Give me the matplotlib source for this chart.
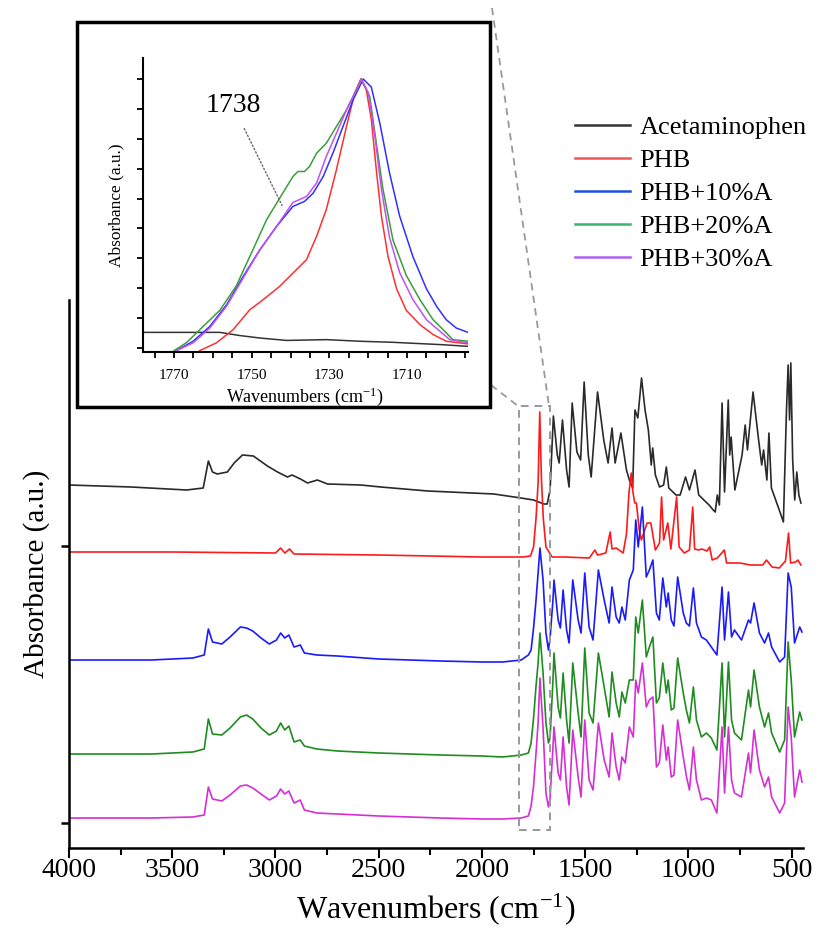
import matplotlib
matplotlib.use("Agg")
import matplotlib.pyplot as plt
from matplotlib.lines import Line2D
from matplotlib.patches import Rectangle

plt.rcParams['font.family'] = ['Liberation Serif', 'DejaVu Serif']
plt.rcParams['mathtext.fontset'] = 'stix'

# ---------------- data (stacked absorbance, a.u.) ----------------
labels = ["Acetaminophen", "PHB", "PHB+10%A", "PHB+20%A", "PHB+30%A"]

wn_acet = [4000, 3700, 3430, 3350, 3325, 3305, 3282, 3233, 3200, 3160, 3107, 3039, 2990, 2942,
           2920, 2879, 2845, 2797, 2748, 2587, 2490, 2262, 1942, 1811, 1750, 1700, 1684,
           1670, 1654, 1635, 1626, 1610, 1590, 1578, 1563, 1540, 1522, 1505, 1485, 1471, 1440,
           1410, 1389, 1370, 1355, 1327, 1300, 1286, 1270, 1259, 1245, 1227, 1210, 1194, 1180,
           1173, 1160, 1140, 1120, 1107, 1095, 1060, 1040, 1014, 995, 968, 950, 900, 880, 870,
           860, 850, 837, 825, 807, 800, 793, 775, 740, 725, 714, 687, 660, 645, 636, 620, 610,
           598, 560, 540, 525, 517, 510, 504, 495, 485, 475, 465, 455]
abs_acet = [3.63, 3.61, 3.58, 3.60, 3.87, 3.76, 3.74, 3.76, 3.85, 3.93, 3.92, 3.82, 3.76, 3.71,
            3.73, 3.69, 3.65, 3.68, 3.64, 3.63, 3.61, 3.57, 3.54, 3.50, 3.48, 3.44, 3.44,
            3.58, 4.32, 3.93, 3.85, 4.28, 3.78, 3.61, 4.45, 3.96, 3.88, 4.66, 3.93, 3.71, 4.56,
            4.08, 3.85, 4.20, 3.85, 4.15, 3.78, 3.68, 3.60, 4.38, 4.30, 4.70, 4.38, 4.18, 3.83,
            4.00, 3.73, 3.61, 3.63, 3.81, 3.60, 3.53, 3.53, 3.71, 3.58, 3.78, 3.53, 3.43, 3.38, 3.36,
            3.53, 3.43, 4.45, 3.56, 4.48, 3.93, 4.11, 3.58, 3.93, 4.23, 3.98, 4.56, 4.08, 3.83, 3.98, 3.68, 4.15,
            3.60, 3.38, 3.26, 4.38, 4.83, 4.28, 4.85, 3.88, 3.48, 3.76, 3.53, 3.45]

wn_phb = [4000, 3500, 3000, 2975, 2955, 2932, 2910, 2500, 2000, 1800, 1765, 1750, 1738, 1728,
          1720, 1712, 1703, 1690, 1660, 1600, 1480, 1453, 1440, 1400, 1379, 1370, 1350, 1316,
          1300, 1288, 1277, 1268, 1260, 1252, 1238, 1228, 1200, 1182, 1160, 1140, 1130, 1120,
          1100, 1085, 1057, 1045, 1020, 995, 979, 970, 950, 935, 910, 897, 885, 860, 826, 815,
          750, 700, 640, 622, 595, 560, 530, 515, 505, 480, 470, 455]
abs_phb = [2.96, 2.96, 2.95, 3.00, 2.95, 2.99, 2.94, 2.93, 2.91, 2.91, 2.92, 3.01, 3.30, 3.65,
           4.36, 3.70, 3.30, 3.01, 2.91, 2.91, 2.90, 2.98, 2.93, 2.95, 3.16, 2.99, 3.00, 2.95,
           3.14, 3.55, 3.75, 3.55, 3.45, 3.45, 3.18, 3.08, 3.25, 3.25, 2.98, 3.05, 3.51, 3.08,
           3.25, 2.99, 3.51, 3.01, 2.95, 2.98, 3.41, 2.99, 2.98, 2.99, 2.97, 3.01, 2.88, 2.90, 2.98, 2.85,
           2.85, 2.83, 2.83, 2.88, 2.81, 2.80, 2.87, 3.15, 2.85, 2.86, 2.88, 2.83]

# blends share one wavenumber grid
wn_blend = [4000, 3600, 3400, 3345, 3325, 3305, 3260, 3220, 3170, 3140, 3110, 3070, 3030, 2995,
            2975, 2955, 2935, 2910, 2880, 2860, 2800, 2700, 2500, 2200, 2000,
            1900, 1810, 1775, 1762, 1750, 1738, 1728, 1719, 1704, 1690, 1678, 1670, 1656, 1651,
            1631, 1620, 1607, 1590, 1578, 1560, 1534, 1520, 1502, 1481, 1462, 1436, 1408, 1384,
            1370, 1350, 1335, 1322, 1306, 1286, 1267, 1255, 1243, 1223, 1204, 1189, 1172, 1155,
            1141, 1124, 1107, 1098, 1083, 1070, 1052, 1025, 1010, 995, 976, 961, 937, 913, 889,
            862, 837, 825, 806, 791, 777, 743, 709, 699, 682, 656, 631, 612, 597, 558, 534, 517,
            502, 486, 461, 450]
abs_10 = [1.88, 1.88, 1.90, 1.93, 2.19, 2.06, 2.04, 2.11, 2.21, 2.20, 2.17, 2.10, 2.04, 2.08,
          2.15, 2.10, 2.13, 2.01, 2.03, 1.95, 1.93, 1.92, 1.89, 1.87, 1.86,
          1.86, 1.88, 1.93, 1.98, 2.20, 2.48, 2.75, 3.00, 2.68, 2.15, 1.98, 2.10, 2.48, 2.68,
          2.28, 2.20, 2.58, 2.18, 2.05, 2.68, 2.28, 2.15, 2.75, 2.21, 2.08, 2.78, 2.48, 2.25,
          2.61, 2.31, 2.25, 2.41, 2.28, 2.68, 2.78, 3.28, 3.01, 3.41, 2.71, 2.78, 2.88, 2.35,
          2.28, 2.70, 2.41, 2.55, 2.28, 2.22, 2.71, 2.35, 2.25, 2.22, 2.60, 2.25, 2.11, 2.08, 2.01,
          1.93, 2.61, 2.08, 2.56, 2.11, 2.18, 2.08, 2.28, 2.25, 2.45, 2.15, 2.05, 2.15, 2.01, 1.86, 1.91, 2.75,
          2.61, 2.05, 2.21, 2.16]
abs_20 = [0.94, 0.94, 0.96, 0.99, 1.29, 1.14, 1.13, 1.20, 1.31, 1.33, 1.29, 1.20, 1.13, 1.17,
          1.25, 1.18, 1.22, 1.06, 1.08, 1.02, 0.99, 0.97, 0.95, 0.93, 0.92,
          0.91, 0.93, 0.95, 1.05, 1.30, 1.62, 1.85, 2.15, 1.75, 1.25, 1.05, 1.10, 1.68, 1.95,
          1.41, 1.30, 1.75, 1.28, 1.05, 1.85, 1.35, 1.11, 2.00, 1.35, 1.25, 1.95, 1.61, 1.31,
          1.76, 1.45, 1.31, 1.56, 1.45, 1.68, 1.68, 2.31, 2.15, 2.48, 1.91, 2.01, 2.11, 1.45,
          1.50, 1.85, 1.55, 1.68, 1.38, 1.40, 1.90, 1.55, 1.38, 1.25, 1.61, 1.28, 1.11, 1.15, 1.10,
          0.98, 1.85, 1.11, 1.86, 1.28, 1.15, 1.08, 1.58, 1.41, 1.78, 1.41, 1.21, 1.35, 1.15, 0.96, 1.08, 2.06,
          1.68, 1.11, 1.36, 1.28]
abs_30 = [0.30, 0.30, 0.31, 0.33, 0.61, 0.49, 0.47, 0.53, 0.62, 0.63, 0.60, 0.54, 0.48, 0.52,
          0.59, 0.54, 0.57, 0.45, 0.48, 0.38, 0.35, 0.34, 0.32, 0.30, 0.29,
          0.29, 0.30, 0.32, 0.42, 0.62, 0.95, 1.25, 1.70, 1.20, 0.55, 0.41, 0.50, 1.01, 1.21,
          0.75, 0.68, 1.11, 0.61, 0.43, 1.18, 0.71, 0.51, 1.28, 0.68, 0.58, 1.25, 0.88, 0.71,
          1.15, 0.81, 0.68, 0.91, 0.85, 1.21, 1.11, 1.68, 1.55, 1.85, 1.41, 1.48, 1.51, 0.81,
          0.85, 1.23, 0.88, 1.01, 0.71, 0.73, 1.28, 0.91, 0.72, 0.58, 1.01, 0.68, 0.48, 0.50, 0.48,
          0.35, 1.21, 0.55, 1.21, 0.68, 0.55, 0.51, 0.95, 0.75, 1.18, 0.78, 0.61, 0.71, 0.51, 0.35, 0.45, 1.41,
          1.11, 0.51, 0.78, 0.66]

# inset: carbonyl region, normalised absorbance
in_wn_acet = [1778, 1758.2, 1753, 1747.9, 1741, 1730.8, 1722.2, 1713.6, 1700.7, 1694.3]
in_ab_acet = [0.058, 0.058, 0.046, 0.037, 0.028, 0.031, 0.025, 0.021, 0.012, 0.006]
in_wn_phb = [1763.4, 1759.1, 1754.8, 1750.5, 1747.1, 1742.8, 1739.4, 1735.9, 1733.3, 1730.8,
             1728.2, 1725.6, 1723.5, 1721.9, 1720.5, 1719.2, 1717.9, 1716.6, 1714.9, 1712.7,
             1710.2, 1706.7, 1703.3, 1699.9, 1694.3]
in_ab_phb = [-0.01, 0.019, 0.068, 0.142, 0.179, 0.229, 0.278, 0.328, 0.415, 0.514,
             0.662, 0.823, 0.947, 1.0, 0.96, 0.85, 0.66, 0.49, 0.34, 0.22,
             0.14, 0.087, 0.05, 0.025, 0.015]
in_wn_10 = [1769.4, 1765.1, 1760.8, 1756.5, 1752.2, 1747.9, 1743.6, 1739.4, 1736.4, 1734.2,
            1731.6, 1729.1, 1726.5, 1723.9, 1721.3, 1719.2, 1717.0, 1714.5, 1711.9, 1708.5,
            1705.0, 1702.4, 1699.9, 1697.3, 1694.3]
in_ab_10 = [-0.01, 0.025, 0.08, 0.16, 0.266, 0.365, 0.452, 0.526, 0.545, 0.575,
            0.637, 0.724, 0.823, 0.922, 1.0, 0.97, 0.835, 0.65, 0.49, 0.34,
            0.22, 0.155, 0.105, 0.074, 0.058]
in_wn_20 = [1770, 1766.8, 1762.5, 1758.2, 1754, 1749.7, 1746.2, 1742.8, 1739.4, 1738.1, 1736.4,
            1735.1, 1733.3, 1730.8, 1728.2, 1725.6, 1723.5, 1721.8, 1719.6, 1717.9, 1716.2,
            1713.6, 1710.2, 1706.7, 1703.3, 1700.7, 1698.2, 1694.3]
in_ab_20 = [-0.01, 0.02, 0.08, 0.14, 0.23, 0.365, 0.476, 0.557, 0.637, 0.656, 0.656,
            0.675, 0.724, 0.761, 0.823, 0.885, 0.947, 1.0, 0.934, 0.76, 0.59,
            0.40, 0.27, 0.18, 0.105, 0.068, 0.031, 0.025]
in_wn_30 = [1769.4, 1765.1, 1760.8, 1756.5, 1752.2, 1747.9, 1743.6, 1739.4, 1735.9, 1733.3,
            1730.8, 1728.2, 1725.6, 1723.0, 1721.8, 1720.0, 1718.3, 1716.6, 1714.5, 1711.9,
            1708.5, 1705.0, 1702.0, 1699.0, 1694.3]
in_ab_30 = [-0.01, 0.019, 0.074, 0.155, 0.26, 0.365, 0.452, 0.541, 0.563, 0.613,
            0.712, 0.798, 0.885, 0.959, 1.0, 0.95, 0.79, 0.59, 0.41, 0.28,
            0.18, 0.105, 0.068, 0.031, 0.019]

main_ticks = [4000, 3500, 3000, 2500, 2000, 1500, 1000, 500]
inset_ticks = [1770, 1750, 1730, 1710]

# ---------------- styling ----------------
trace_colors = ["#2a2a2a", "#ff1a1a", "#1a1aff", "#1e8c1e", "#d62ed6"]
inset_colors = ["#333333", "#ff3030", "#3030ff", "#3a9e3a", "#c050f0"]
legend_colors = ["#333333", "#f05555", "#1f4fe0", "#3cb371", "#b060f0"]

W, H = 820, 942
fig = plt.figure(figsize=(W / 100, H / 100), dpi=100)

def fx(px):
    return px / W

def fy(py):
    return 1 - py / H

# main axes
ax = fig.add_axes([fx(69), fy(848), fx(803) - fx(69), fy(300) - fy(848)])
series = [(wn_acet, abs_acet), (wn_phb, abs_phb), (wn_blend, abs_10),
          (wn_blend, abs_20), (wn_blend, abs_30)]
for (x, y), c in zip(series, trace_colors):
    ax.plot(x, y, color=c, lw=1.2)
ax.set_xlim(4000, 445)
ax.set_ylim(0, 5.48)
ax.set_xticks(main_ticks)
ax.set_xticks([3750, 3250, 2750, 2250, 1750, 1250, 750], minor=True)
ax.set_yticks([0.25, 3.02])
ax.set_yticklabels([])
ax.tick_params(axis='x', which='major', direction='out', length=7, width=1.5,
               labelsize=20, pad=0)
ax.tick_params(axis='x', which='minor', direction='out', length=5, width=1.5)
ax.tick_params(axis='y', direction='out', length=6, width=1.8)
for s in ['top', 'right']:
    ax.spines[s].set_visible(False)
for s in ['left', 'bottom']:
    ax.spines[s].set_linewidth(1.8)
ax.set_xlabel('Wavenumbers (cm$^{\\mathregular{-1}}$)', fontsize=23, labelpad=6)
ax.set_ylabel('Absorbance (a.u.)', fontsize=21, labelpad=4)

# dashed zoom box in main axes
ax.add_patch(Rectangle((1821, 0.18), 1670 - 1821, 4.42 - 0.18, fill=False,
                       ls=(0, (4, 3)), lw=1.4, ec='#999999', zorder=5))

# inset frame
frame = Rectangle((fx(77), fy(407)), fx(490) - fx(77), fy(22) - fy(407),
                  transform=fig.transFigure, fc='white', ec='black', lw=2.5, zorder=2)
fig.patches.append(frame)

# connector lines
fig.add_artist(Line2D([fx(491), fx(518)], [fy(385), fy(406)], transform=fig.transFigure,
                      ls=(0, (4, 3)), lw=1.3, color='#999999'))
fig.add_artist(Line2D([fx(492), fx(549)], [fy(8), fy(406)], transform=fig.transFigure,
                      ls=(0, (4, 3)), lw=1.3, color='#999999'))

# inset axes
axi = fig.add_axes([fx(143), fy(352), fx(468) - fx(143), fy(58) - fy(352)], zorder=3)
axi.patch.set_alpha(0)
inset_series = [(in_wn_acet, in_ab_acet), (in_wn_phb, in_ab_phb), (in_wn_10, in_ab_10),
                (in_wn_20, in_ab_20), (in_wn_30, in_ab_30)]
for (x, y), c in zip(inset_series, inset_colors):
    axi.plot(x, y, color=c, lw=1.1)
axi.set_xlim(1778, 1694.3)
axi.set_ylim(-0.015, 1.078)
axi.set_xticks(inset_ticks)
axi.set_xticks([1775, 1765, 1760, 1755, 1745, 1740, 1735, 1725, 1720, 1715, 1705, 1700, 1695],
               minor=True)
axi.set_yticks([i / 9 for i in range(10)])
axi.set_yticklabels([])
axi.tick_params(axis='x', which='both', direction='out', length=4, width=1.3,
                labelsize=11, pad=8)
axi.tick_params(axis='y', direction='out', length=4, width=1.3)
for s in ['top', 'right']:
    axi.spines[s].set_visible(False)
for s in ['left', 'bottom']:
    axi.spines[s].set_linewidth(1.5)
axi.set_xlabel('Wavenumbers (cm$^{\\mathregular{-1}}$)', fontsize=13, labelpad=3)
axi.set_ylabel('Absorbance (a.u.)', fontsize=12.5, labelpad=6)
axi.annotate('1738', xy=(1742.2, 0.53), xytext=(1754.8, 0.90), fontsize=20,
             ha='center', va='center',
             arrowprops=dict(arrowstyle='-', linestyle=':', color='#666666', lw=1.0,
                             shrinkA=6, shrinkB=0))

# legend
handles = [Line2D([], [], color=c, lw=1.8) for c in legend_colors]
fig.legend(handles, labels, loc='upper left', bbox_to_anchor=(fx(575), fy(116)),
           frameon=False, fontsize=19, borderpad=0, borderaxespad=0,
           handlelength=2.1, handletextpad=0.35, labelspacing=0.36)

fig.savefig('out.png', dpi=100)
